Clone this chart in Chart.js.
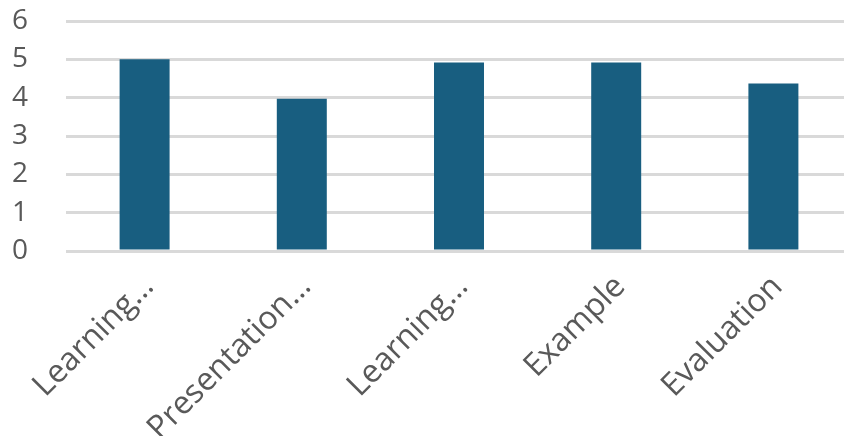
<!DOCTYPE html>
<html>
<head>
<meta charset="utf-8">
<script src="https://cdn.jsdelivr.net/npm/chart.js@4/dist/chart.umd.min.js"></script>
<style>
  html, body { margin: 0; padding: 0; background: #fff; overflow: hidden; }
  #wrap { width: 860px; height: 436px; }
</style>
</head>
<body>
<div id="wrap"><canvas id="chart" width="860" height="436"></canvas></div>
<script>
// chart data
const categories = ['Learning…', 'Presentation…', 'Learning…', 'Example', 'Evaluation'];
const scores = [5.0, 3.97, 4.92, 4.92, 4.37];
const yTicks = [0, 1, 2, 3, 4, 5, 6];

const textColor = '#595959';
const gridColor = '#d9d9d9';
const barColor = '#185e80';

const ctx = document.getElementById('chart').getContext('2d');
new Chart(ctx, {
    type: 'bar',
    data: {
        labels: categories,
        datasets: [{
            data: scores,
            backgroundColor: barColor,
            borderWidth: 0,
            categoryPercentage: 1,
            barPercentage: 0.318
        }]
    },
    options: {
        responsive: false,
        animation: false,
        layout: { padding: { top: 21, right: 8, left: 12, bottom: 0 } },
        plugins: {
            legend: { display: false },
            tooltip: { enabled: false }
        },
        scales: {
            x: {
                grid: { display: false },
                border: { display: false },
                ticks: {
                    color: textColor,
                    font: { family: 'Open Sans', size: 32 },
                    minRotation: 45,
                    maxRotation: 45,
                    autoSkip: false,
                    labelOffset: 4,
                    padding: 9
                },
                afterFit: scale => { scale.height = 185; }
            },
            y: {
                min: 0,
                max: 6,
                afterBuildTicks: scale => {
                    scale.ticks = yTicks.map(v => ({ value: v }));
                },
                grid: { color: gridColor, lineWidth: 3, drawTicks: false },
                border: { display: false },
                ticks: {
                    color: textColor,
                    font: { family: 'Open Sans', size: 28 },
                    crossAlign: 'far',
                    padding: 0
                },
                afterFit: scale => { scale.width = 54; }
            }
        }
    }
});
</script>
</body>
</html>
